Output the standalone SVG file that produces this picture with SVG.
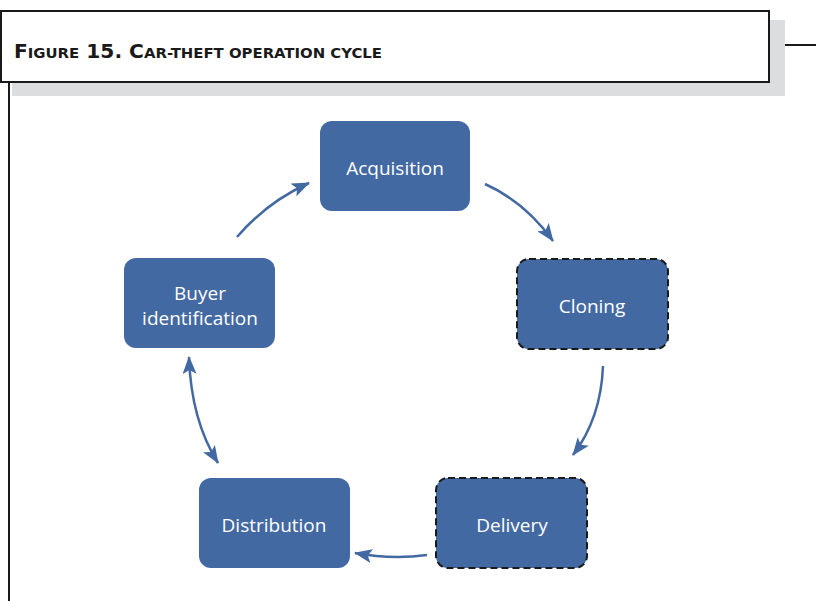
<svg xmlns="http://www.w3.org/2000/svg" width="816" height="601" viewBox="0 0 816 601">
<defs>
<style>
.node rect{fill:#4369a3;}
.dash{stroke:#1a1a1a;stroke-width:2;stroke-dasharray:7 4;}
.lbl{fill:#ffffff;font-family:"Open Sans","Noto Sans",sans-serif;font-size:19px;text-anchor:middle;}
.conn path{fill:none;stroke:#4369a3;stroke-width:2.5;}
.title{font-family:"Liberation Sans Narrow","DejaVu Sans Condensed","Liberation Sans",sans-serif;fill:#1a1a1a;font-weight:600;}
</style>
<marker id="ah" viewBox="0 0 18 14" refX="17" refY="7" markerWidth="18" markerHeight="14" markerUnits="userSpaceOnUse" orient="auto-start-reverse">
<path d="M0,0 L18,7 L0,14 L4,7 Z" fill="#4369a3"/>
</marker>
</defs>
<rect width="816" height="601" fill="#ffffff"/>
<g id="header">
<rect x="12" y="20" width="773" height="76" fill="#dcdddf"/>
<rect x="1" y="11" width="768" height="71" fill="#ffffff" stroke="#1a1a1a" stroke-width="2"/>
<line x1="785" y1="45" x2="816" y2="45" stroke="#1a1a1a" stroke-width="2"/>
<line x1="9" y1="82" x2="9" y2="601" stroke="#1a1a1a" stroke-width="2"/>
<text class="title" x="14" y="58" textLength="368" lengthAdjust="spacingAndGlyphs"><tspan font-size="19">F</tspan><tspan font-size="14">IGURE</tspan><tspan font-size="19"> 15. C</tspan><tspan font-size="14">AR-THEFT  OPERATION  CYCLE</tspan></text>
</g>
<g id="connectors" class="conn">
<path d="M485,184 Q525,202 553,241" marker-end="url(#ah)"/>
<path d="M603,366 Q601,418 573,455" marker-end="url(#ah)"/>
<path d="M427,555 Q392,560 355,553" marker-end="url(#ah)"/>
<path d="M189,357 Q191,420 218,463" marker-start="url(#ah)" marker-end="url(#ah)"/>
<path d="M237,237 Q267,202 309,183" marker-end="url(#ah)"/>
</g>
<g id="acquisition" class="node">
<rect x="320" y="121" width="150" height="90" rx="12"/>
<text class="lbl" x="395" y="175">Acquisition</text>
</g>
<g id="cloning" class="node">
<rect class="dash" x="517" y="259" width="151" height="90" rx="12"/>
<text class="lbl" x="592" y="313">Cloning</text>
</g>
<g id="delivery" class="node">
<rect class="dash" x="436" y="478" width="151" height="90" rx="12"/>
<text class="lbl" x="512" y="532">Delivery</text>
</g>
<g id="distribution" class="node">
<rect x="199" y="478" width="151" height="90" rx="12"/>
<text class="lbl" x="274" y="532">Distribution</text>
</g>
<g id="buyer" class="node">
<rect x="124" y="258" width="151" height="90" rx="12"/>
<text class="lbl" x="200" y="300" font-size="18">Buyer</text>
<text class="lbl" x="200" y="325" font-size="18">identification</text>
</g>
</svg>
